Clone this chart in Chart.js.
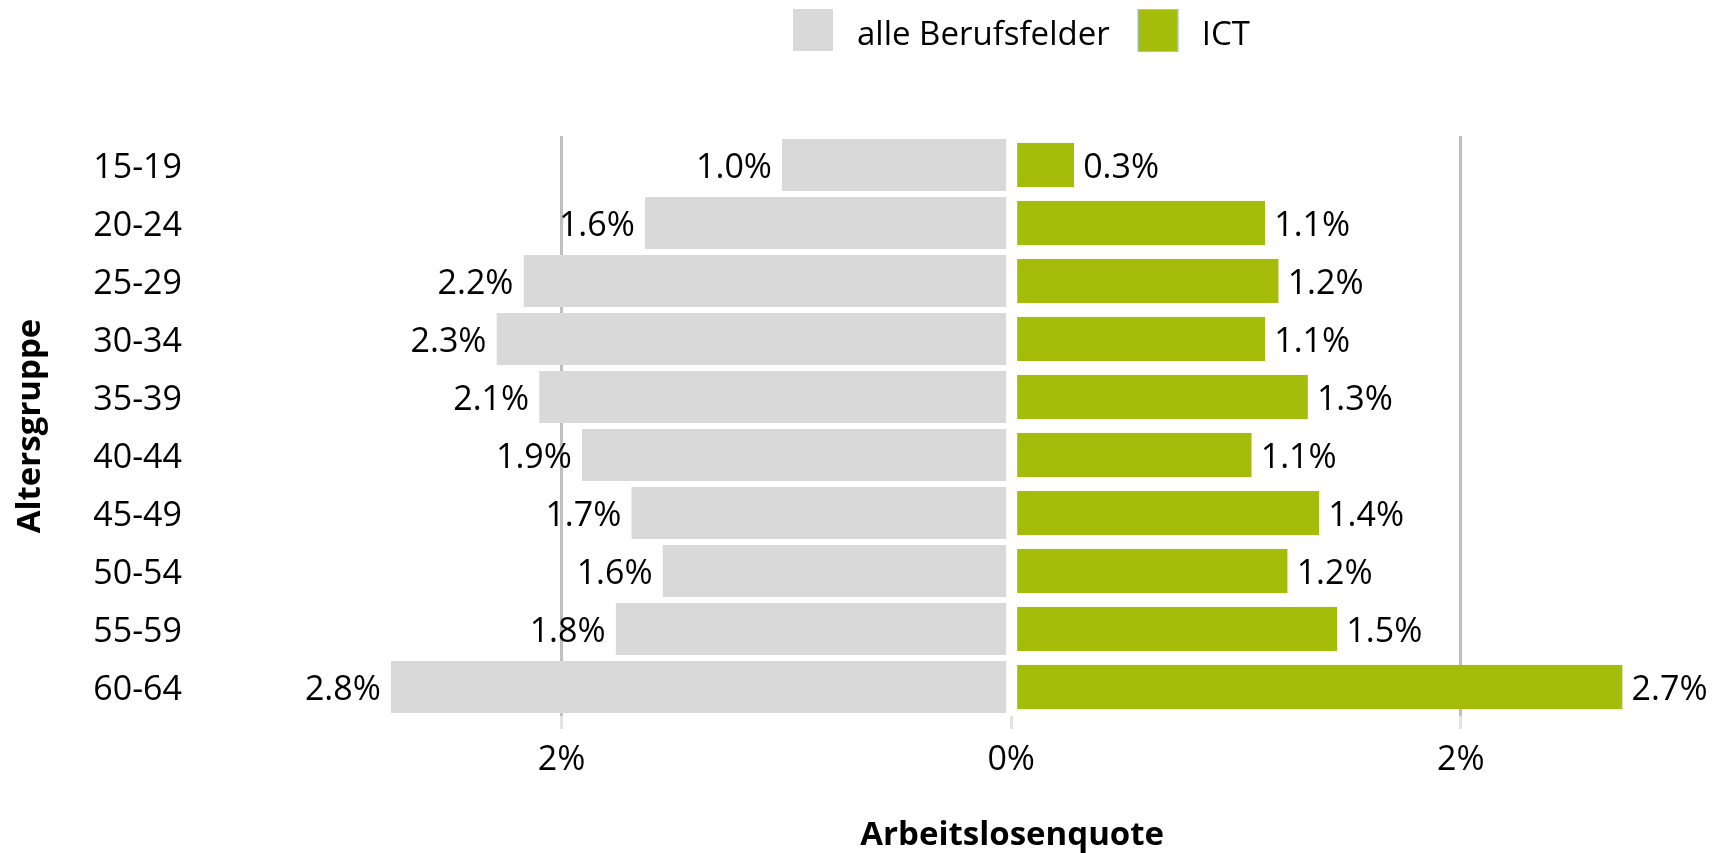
<!DOCTYPE html>
<html>
<head>
<meta charset="utf-8">
<script src="https://cdn.jsdelivr.net/npm/chart.js@4.4.1/dist/chart.umd.min.js"></script>
<style>
  html, body { margin: 0; padding: 0; background: #fff; }
  #wrap { position: relative; width: 1714px; height: 853px; }
</style>
</head>
<body>
<div id="wrap"><canvas id="mygraph"></canvas></div>
<script>
// Arbeitslosenquote nach Altersgruppe, in %
const altersgruppen = ['15-19', '20-24', '25-29', '30-34', '35-39', '40-44', '45-49', '50-54', '55-59', '60-64'];
const alleBerufsfelder = [1.02, 1.63, 2.17, 2.29, 2.10, 1.91, 1.69, 1.551, 1.76, 2.76];
const ict = [0.28, 1.13, 1.19, 1.13, 1.32, 1.07, 1.37, 1.23, 1.451, 2.72];
const xTicks = [-2, 0, 2];
const xTitel = 'Arbeitslosenquote';

const grau = '#d9d9d9';
const gruen = '#a4bc0a';
const schrift = "'Open Sans'";

Chart.defaults.font.family = schrift;
Chart.defaults.color = '#000';

// Werte an die Balken schreiben
let wertePlugin = {
  id: 'werte',
  afterDatasetsDraw(chart) {
    const ctx = chart.ctx;
    ctx.save();
    ctx.font = '34px ' + schrift;
    ctx.fillStyle = '#000';
    ctx.textBaseline = 'alphabetic';
    chart.data.datasets.forEach((ds, i) => {
      chart.getDatasetMeta(i).data.forEach((bar, j) => {
        const v = ds.data[j];
        const txt = Math.abs(v).toFixed(1) + '%';
        if (v < 0) {
          ctx.textAlign = 'right';
          ctx.fillText(txt, bar.x - 10, bar.y + 12.5);
        } else {
          ctx.textAlign = 'left';
          ctx.fillText(txt, bar.x + 9, bar.y + 12.5);
        }
      });
    });
    ctx.restore();
  }
};

// Legende oben + Achsentitel unter der Nulllinie
let legendePlugin = {
  id: 'legende',
  afterDraw(chart) {
    const ctx = chart.ctx;
    ctx.save();
    ctx.font = '33px ' + schrift;
    ctx.textBaseline = 'alphabetic';
    ctx.textAlign = 'left';
    let x = 793;
    const y = 30;
    chart.data.datasets.forEach((ds, i) => {
      ctx.fillStyle = ds.backgroundColor;
      ctx.fillRect(x, y - 21, 40, 42);
      if (i === 1) {
        ctx.strokeStyle = '#9dc3e6';
        ctx.lineWidth = 1;
        ctx.strokeRect(x + 0.5, y - 20.5, 40, 42);
      }
      x += 40 + 24;
      ctx.fillStyle = '#000';
      ctx.fillText(ds.label, x, y + 15);
      x += ctx.measureText(ds.label).width + 28;
    });

    const nullX = chart.scales.x.getPixelForValue(0);
    ctx.font = 'bold 33px ' + schrift;
    ctx.textAlign = 'center';
    ctx.fillText(xTitel, nullX + 1, 845);
    ctx.restore();
  }
};

const ctx = document.getElementById('mygraph').getContext('2d');
new Chart(ctx, {
  type: 'bar',
  data: {
    labels: altersgruppen,
    datasets: [
      {
        label: 'alle Berufsfelder',
        data: alleBerufsfelder.map(v => -v),
        backgroundColor: grau,
        borderColor: '#fff',
        borderWidth: { right: 3.5 },
        borderSkipped: false,
        barPercentage: 0.9,
        categoryPercentage: 1,
        grouped: false
      },
      {
        label: 'ICT',
        data: ict,
        backgroundColor: gruen,
        borderColor: '#fff',
        borderWidth: { left: 4.5 },
        borderSkipped: false,
        barPercentage: 0.77,
        categoryPercentage: 1,
        grouped: false
      }
    ]
  },
  options: {
    indexAxis: 'y',
    responsive: true,
    maintainAspectRatio: false,
    animation: false,
    layout: { padding: { top: 136, right: 6, left: 0, bottom: 0 } },
    plugins: {
      legend: { display: false },
      tooltip: { enabled: false }
    },
    scales: {
      x: {
        min: -3.6,
        max: 3.1,
        afterBuildTicks: s => { s.ticks = xTicks.map(v => ({ value: v })); },
        afterFit: s => { s.height = 137; },
        ticks: {
          callback: v => Math.abs(v) + '%',
          font: { size: 34 },
          padding: 11,
          maxRotation: 0,
          autoSkip: false
        },
        grid: {
          color: c => (c.tick && c.tick.value === 0) ? 'rgba(0,0,0,0)' : '#bfbfbf',
          lineWidth: 3,
          tickLength: 13,
          tickColor: '#e3e3e3'
        },
        border: { display: false },
        title: { display: false }
      },
      y: {
        afterFit: s => { s.width = 202; },
        ticks: { font: { size: 34 }, padding: 12, labelOffset: 3 },
        grid: { display: false },
        border: { display: false },
        title: {
          display: true,
          text: 'Altersgruppe',
          font: { size: 33, weight: 'bold' },
          padding: { top: 11 }
        }
      }
    }
  },
  plugins: [wertePlugin, legendePlugin]
});
</script>
</body>
</html>
